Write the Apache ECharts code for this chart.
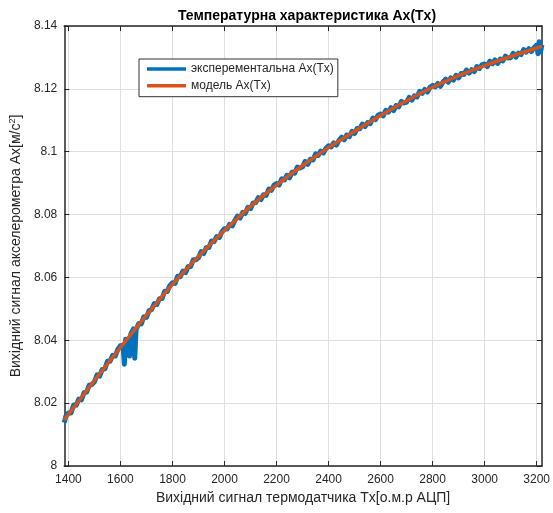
<!DOCTYPE html>
<html>
<head>
<meta charset="utf-8">
<script src="https://cdn.jsdelivr.net/npm/echarts@6/dist/echarts.min.js"></script>
<style>
html,body{margin:0;padding:0;background:#fff;}
#chart{width:553px;height:513px;}
</style>
</head>
<body>
<div id="chart"></div>
<script>
const titleText = 'Температурна характеристика Ax(Tx)';
const xAxisName = 'Вихідний сигнал термодатчика Tx[о.м.р АЦП]';
const seriesNames = ['эксперементальна Ax(Tx)', 'модель Ax(Tx)'];

const xTicks = [1400, 1600, 1800, 2000, 2200, 2400, 2600, 2800, 3000, 3200];
const yTicks = [8, 8.02, 8.04, 8.06, 8.08, 8.1, 8.12, 8.14];

const expTx = [1384, 1390,
  1400, 1410, 1420, 1430, 1440, 1450, 1460, 1470, 1480, 1490,
  1500, 1510, 1520, 1530, 1540, 1550, 1560, 1570, 1580, 1590,
  1600, 1610, 1615, 1620, 1630, 1635, 1640, 1650, 1655, 1660, 1670, 1680, 1690,
  1700, 1710, 1720, 1730, 1740, 1750, 1760, 1770, 1780, 1790,
  1800, 1810, 1820, 1830, 1840, 1850, 1860, 1870, 1880, 1890,
  1900, 1910, 1920, 1930, 1940, 1950, 1960, 1970, 1980, 1990,
  2000, 2010, 2020, 2030, 2040, 2050, 2060, 2070, 2080, 2090,
  2100, 2110, 2120, 2130, 2140, 2150, 2160, 2170, 2180, 2190,
  2200, 2210, 2220, 2230, 2240, 2250, 2260, 2270, 2280, 2290,
  2300, 2310, 2320, 2330, 2340, 2350, 2360, 2370, 2380, 2390,
  2400, 2410, 2420, 2430, 2440, 2450, 2460, 2470, 2480, 2490,
  2500, 2510, 2520, 2530, 2540, 2550, 2560, 2570, 2580, 2590,
  2600, 2610, 2620, 2630, 2640, 2650, 2660, 2670, 2680, 2690,
  2700, 2710, 2720, 2730, 2740, 2750, 2760, 2770, 2780, 2790,
  2800, 2810, 2820, 2830, 2840, 2850, 2860, 2870, 2880, 2890,
  2900, 2910, 2920, 2930, 2940, 2950, 2960, 2970, 2980, 2990,
  3000, 3010, 3020, 3030, 3040, 3050, 3060, 3070, 3080, 3090,
  3100, 3110, 3120, 3130, 3140, 3150, 3160, 3170, 3180, 3190,
  3200, 3205, 3210, 3215, 3220];

const expAx = [8.0138, 8.0158,
  8.0169, 8.0169, 8.0194, 8.0193, 8.0213, 8.0210, 8.0233, 8.0235, 8.0257, 8.0259,
  8.0268, 8.0290, 8.0286, 8.0307, 8.0309, 8.0333, 8.0333, 8.0352, 8.0350, 8.0371,
  8.0383, 8.0384, 8.0324, 8.0403, 8.0400, 8.0350, 8.0420, 8.0436, 8.0343, 8.0433, 8.0453, 8.0452, 8.0475,
  8.0473, 8.0494, 8.0498, 8.0517, 8.0514, 8.0532, 8.0533, 8.0556, 8.0555, 8.0574,
  8.0583, 8.0581, 8.0604, 8.0602, 8.0620, 8.0615, 8.0635, 8.0635, 8.0656, 8.0656,
  8.0663, 8.0682, 8.0676, 8.0695, 8.0695, 8.0716, 8.0714, 8.0730, 8.0727, 8.0745,
  8.0755, 8.0754, 8.0769, 8.0764, 8.0782, 8.0795, 8.0789, 8.0807, 8.0804, 8.0823,
  8.0819, 8.0837, 8.0838, 8.0854, 8.0848, 8.0863, 8.0861, 8.0881, 8.0877, 8.0893,
  8.0899, 8.0894, 8.0914, 8.0910, 8.0925, 8.0917, 8.0935, 8.0932, 8.0951, 8.0948,
  8.0952, 8.0969, 8.0960, 8.0976, 8.0974, 8.0993, 8.0988, 8.1002, 8.0996, 8.1011,
  8.1019, 8.1015, 8.1028, 8.1021, 8.1036, 8.1046, 8.1038, 8.1053, 8.1048, 8.1065,
  8.1058, 8.1074, 8.1073, 8.1088, 8.1080, 8.1093, 8.1089, 8.1107, 8.1102, 8.1116,
  8.1120, 8.1114, 8.1132, 8.1126, 8.1140, 8.1131, 8.1147, 8.1143, 8.1160, 8.1155,
  8.1158, 8.1173, 8.1164, 8.1178, 8.1174, 8.1192, 8.1186, 8.1198, 8.1190, 8.1205,
  8.1211, 8.1206, 8.1217, 8.1208, 8.1222, 8.1231, 8.1221, 8.1235, 8.1228, 8.1243,
  8.1235, 8.1249, 8.1246, 8.1260, 8.1250, 8.1261, 8.1255, 8.1271, 8.1265, 8.1277,
  8.1279, 8.1271, 8.1288, 8.1280, 8.1292, 8.1281, 8.1295, 8.1289, 8.1304, 8.1298,
  8.1299, 8.1313, 8.1301, 8.1314, 8.1309, 8.1325, 8.1317, 8.1328, 8.1319, 8.1331,
  8.1339, 8.1312, 8.1350, 8.1318, 8.1340];

const modelTx = [1384, 1400, 1500, 1600, 1700, 1800, 1900, 2000, 2100, 2200, 2300,
  2400, 2500, 2600, 2700, 2800, 2900, 3000, 3100, 3200, 3220];
const modelAx = [8.0147, 8.0164, 8.0272, 8.0377, 8.0480, 8.0578, 8.0667, 8.0749, 8.0826, 8.0894, 8.0956,
  8.1013, 8.1065, 8.1115, 8.1162, 8.1205, 8.1242, 8.1274, 8.1303, 8.1330, 8.1336];

const FONT = '"Liberation Sans", Arial, Helvetica, sans-serif';
const DARK = '#262626';
const GRIDC = '#dfdfdf';

const expData = expTx.map((x, i) => [x, expAx[i]]);
const modelData = modelTx.map((x, i) => [x, modelAx[i]]);

const chart = echarts.init(document.getElementById('chart'), null, {renderer: 'canvas'});

const xCommon = {
  type: 'value', min: 1384, max: 3220,
  axisLine: {show: true, onZero: false, lineStyle: {color: DARK, width: 1.5}},
  axisTick: {show: true, inside: true, length: 5, customValues: xTicks, lineStyle: {color: DARK, width: 1}},
};
const yCommon = {
  type: 'value', min: 8, max: 8.14, interval: 0.02,
  axisLine: {show: true, onZero: false, lineStyle: {color: DARK, width: 1.5}},
  axisTick: {show: true, inside: true, length: 5, lineStyle: {color: DARK, width: 1}},
};

chart.setOption({
  animation: false,
  backgroundColor: '#ffffff',
  textStyle: {fontFamily: FONT},
  title: {
    text: titleText,
    left: 302, top: 4, textAlign: 'center',
    textStyle: {fontFamily: FONT, fontSize: 14, fontWeight: 'bold', color: '#000'}
  },
  legend: {
    orient: 'vertical', left: 139, top: 59,
    padding: [4, 4, 5, 8], itemGap: 4.7,
    itemWidth: 39, itemHeight: 3.5, icon: 'rect',
    backgroundColor: '#fff', borderColor: '#333', borderWidth: 1,
    textStyle: {fontFamily: FONT, fontSize: 12, color: DARK},
    data: seriesNames
  },
  grid: {left: 62, right: 10, top: 26, bottom: 47, containLabel: false},
  xAxis: [
    Object.assign({}, xCommon, {
      position: 'bottom',
      name: xAxisName, nameLocation: 'middle', nameGap: 25,
      nameTextStyle: {fontFamily: FONT, fontSize: 14, color: DARK},
      axisLabel: {show: true, customValues: xTicks, margin: 8, fontSize: 12, color: DARK, fontFamily: FONT,
        formatter: v => String(v)},
      splitLine: {show: true, lineStyle: {color: GRIDC, width: 1}}
    }),
    Object.assign({}, xCommon, {
      position: 'top',
      axisLabel: {show: false},
      splitLine: {show: false}
    })
  ],
  yAxis: [
    Object.assign({}, yCommon, {
      position: 'left',
      name: 'Вихідний сигнал акселерометра Ax[м/с{sup|2}]',
      nameLocation: 'middle', nameGap: 38, nameRotate: 90,
      nameTextStyle: {fontFamily: FONT, fontSize: 14, color: DARK,
        rich: {sup: {fontFamily: FONT, fontSize: 9, color: DARK, verticalAlign: 'top', padding: [0, 0, 7, 0]}}},
      axisLabel: {show: true, margin: 7, fontSize: 12, color: DARK, fontFamily: FONT,
        formatter: v => String(parseFloat(v.toFixed(2)))},
      splitLine: {show: true, lineStyle: {color: GRIDC, width: 1}}
    }),
    Object.assign({}, yCommon, {
      position: 'right',
      axisLabel: {show: false},
      splitLine: {show: false}
    })
  ],
  series: [
    {
      name: seriesNames[0], type: 'line', data: expData,
      xAxisIndex: 0, yAxisIndex: 0,
      symbol: 'none', showSymbol: false,
      lineStyle: {color: '#0072BD', width: 5, join: 'round', cap: 'butt'},
      itemStyle: {color: '#0072BD'},
      z: 2
    },
    {
      name: seriesNames[1], type: 'line', data: modelData,
      xAxisIndex: 0, yAxisIndex: 0,
      symbol: 'none', showSymbol: false,
      smooth: 0.3,
      lineStyle: {color: '#D95319', width: 3.5},
      itemStyle: {color: '#D95319'},
      z: 3
    }
  ]
});
</script>
</body>
</html>
